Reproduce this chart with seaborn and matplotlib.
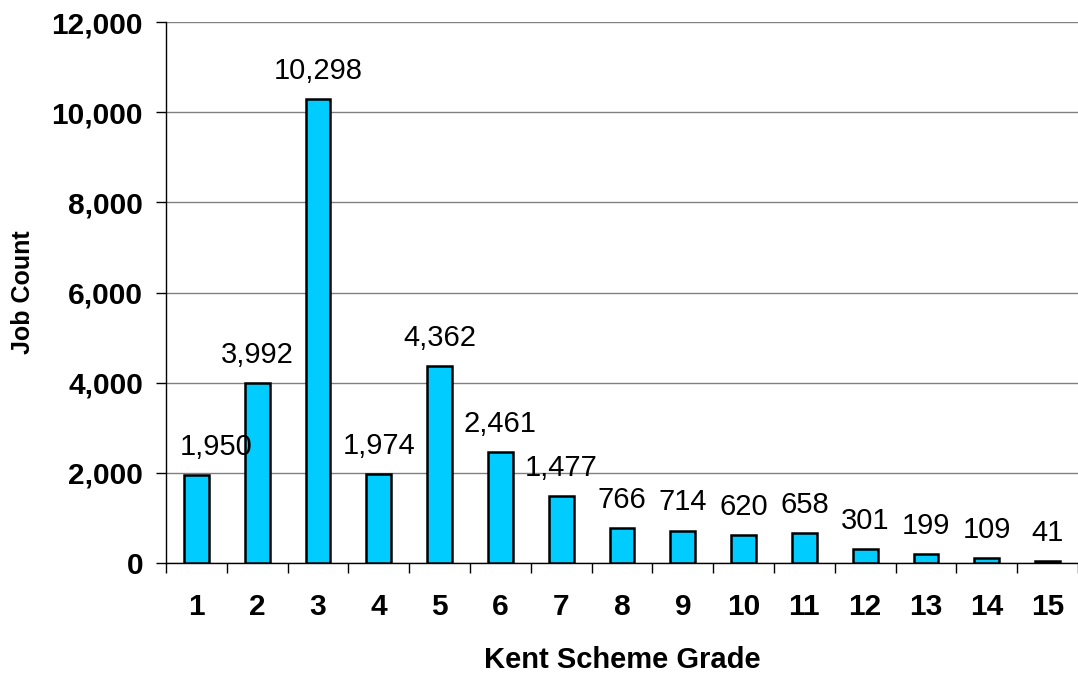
import matplotlib
matplotlib.use("Agg")
import matplotlib.pyplot as plt
import seaborn as sns
import pandas as pd

grades = [str(i) for i in range(1, 16)]
counts = [1950, 3992, 10298, 1974, 4362, 2461, 1477, 766, 714, 620, 658, 301, 199, 109, 41]
y_ticks = [0, 2000, 4000, 6000, 8000, 10000, 12000]

sns.set_theme(style="white")
plt.rcParams['font.family'] = ['Liberation Sans', 'DejaVu Sans']
plt.rcParams['text.color'] = 'black'
plt.rcParams['axes.labelcolor'] = 'black'
plt.rcParams['xtick.color'] = 'black'
plt.rcParams['ytick.color'] = 'black'

df = pd.DataFrame({"grade": grades, "count": counts})

fig = plt.figure(figsize=(10.78, 6.74), dpi=100)
ax = fig.add_axes([0.154, 0.165, 0.846, 0.802])

sns.barplot(data=df, x="grade", y="count", color="#00CCFF", saturation=1,
            edgecolor="black", linewidth=1.8, width=0.41, ax=ax, zorder=3)

ax.set_ylim(0, 12000)
ax.set_xlim(-0.5, len(grades) - 0.5)
ax.set_yticks(y_ticks)
ax.set_yticklabels([f"{v:,}" for v in y_ticks], fontsize=21.5, fontweight="bold")
ax.set_xticks(range(len(grades)))
ax.set_xticklabels(grades, fontsize=21.5, fontweight="bold")
ax.tick_params(axis="x", length=0, pad=22)
ax.tick_params(axis="y", length=7.5, width=1, color="black", left=True, pad=9)
# minor ticks on category boundaries
ax.set_xticks([i - 0.5 for i in range(len(grades) + 1)], minor=True)
ax.tick_params(axis="x", which="minor", length=7.5, width=1, color="black", bottom=True)

ax.yaxis.grid(True, color="#808080", linewidth=1, zorder=0)
ax.xaxis.grid(False)
for s in ["top", "right"]:
    ax.spines[s].set_visible(False)
for s in ["left", "bottom"]:
    ax.spines[s].set_color("black")
    ax.spines[s].set_linewidth(1)

for i, v in enumerate(counts):
    dx = 14 if i == 0 else 0
    ax.annotate(f"{v:,}", xy=(i, v), xytext=(dx, 14.5), textcoords="offset points",
                ha="center", va="baseline", fontsize=21, color="black")

ax.set_xlabel("Kent Scheme Grade", fontsize=21, fontweight="bold", labelpad=18)
ax.set_ylabel("Job Count", fontsize=18, fontweight="bold", labelpad=12)

fig.savefig("out.png", dpi=100)
